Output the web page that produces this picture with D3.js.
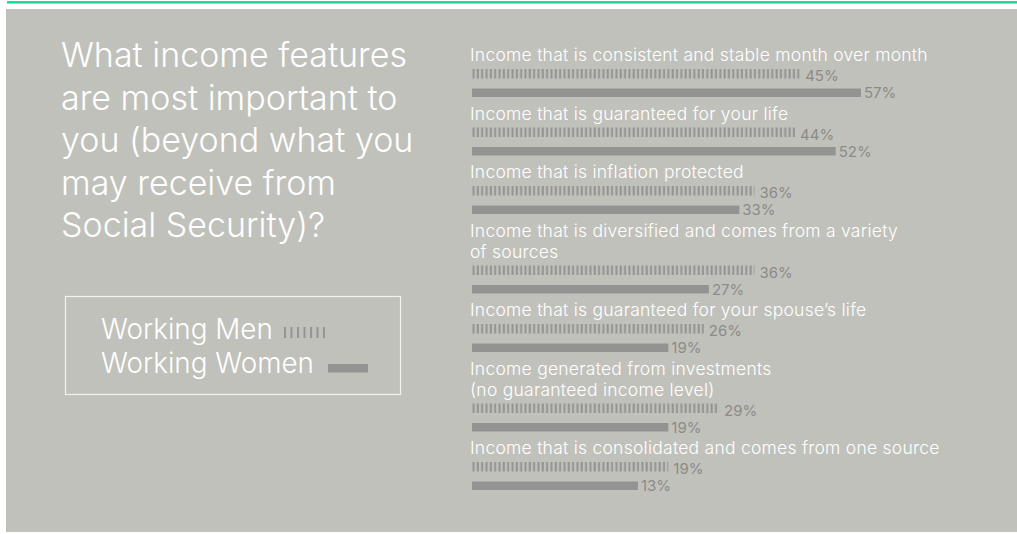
<!DOCTYPE html>
<html>
<head>
<meta charset="utf-8">
<script src="https://cdn.jsdelivr.net/npm/d3@7"></script>
<style>
  html, body { margin: 0; padding: 0; background: #ffffff; }
  svg { display: block; }
</style>
</head>
<body>
<script>
// ---- data ----
const titleLines = ["What income features", "are most important to", "you (beyond what you", "may receive from", "Social Security)?"];
const seriesNames = ["Working Men", "Working Women"];
const categories = [
  ["Income that is consistent and stable month over month"],
  ["Income that is guaranteed for your life"],
  ["Income that is inflation protected"],
  ["Income that is diversified and comes from a variety", "of sources"],
  ["Income that is guaranteed for your spouse\u2019s life"],
  ["Income generated from investments", "(no guaranteed income level)"],
  ["Income that is consolidated and comes from one source"]
];
const menValues   = [45, 44, 36, 36, 26, 29, 19];
const womenValues = [57, 52, 33, 27, 19, 19, 13];

// ---- layout ----
const W = 1017, H = 534;
const BG = "#c1c1bb", BAR = "#939391", VAL = "#8b8b87";
const FONT = "Inter, 'DejaVu Sans', sans-serif";

const svg = d3.select("body").append("svg").attr("width", W).attr("height", H);

const defs = svg.append("defs");
defs.append("pattern").attr("id", "stripes").attr("patternUnits", "userSpaceOnUse")
  .attr("x", 472).attr("width", 4.33).attr("height", 20)
  .append("rect").attr("x", 0.5).attr("y", 0).attr("width", 2).attr("height", 20).attr("fill", BAR);
defs.append("pattern").attr("id", "stripesLegend").attr("patternUnits", "userSpaceOnUse")
  .attr("x", 284).attr("width", 6.5).attr("height", 20)
  .append("rect").attr("x", 0).attr("y", 0).attr("width", 2).attr("height", 20).attr("fill", BAR);

// top accent line + panel
svg.append("rect").attr("x", 7).attr("y", 1).attr("width", W - 7).attr("height", 2.6).attr("fill", "#1fd99b");
svg.append("rect").attr("x", 6).attr("y", 9).attr("width", W - 6).attr("height", 523).attr("fill", BG);

// title
const title = svg.append("text").attr("font-family", FONT).attr("font-size", 34)
  .attr("fill", "#ffffff").attr("font-weight", 300);
titleLines.forEach((t, i) => {
  title.append("tspan").attr("x", 61).attr("y", 67 + i * 42.5).text(t);
});

// legend
svg.append("rect").attr("x", 65.5).attr("y", 296.5).attr("width", 335).attr("height", 98)
  .attr("fill", "none").attr("stroke", "#f2f2ee").attr("stroke-width", 1.2);
svg.append("text").attr("x", 101).attr("y", 338.5).attr("font-family", FONT).attr("font-size", 27.8)
  .attr("font-weight", 300).attr("fill", "#ffffff").text(seriesNames[0]);
svg.append("text").attr("x", 101).attr("y", 372.5).attr("font-family", FONT).attr("font-size", 27.8)
  .attr("font-weight", 300).attr("fill", "#ffffff").text(seriesNames[1]);
svg.append("rect").attr("x", 284).attr("y", 327).attr("width", 41).attr("height", 11).attr("fill", "url(#stripesLegend)");
svg.append("rect").attr("x", 328).attr("y", 364).attr("width", 40).attr("height", 8.5).attr("fill", BAR);

// scale for bar length (bars start at x0)
const x0 = 472;
const w = d3.scaleLinear().domain([0, 57]).range([100, 389]);

// rows
const lineH = 21, rowH = 58.5;
let B = 61;
const rows = categories.map((lines, i) => {
  const r = { lines, men: menValues[i], women: womenValues[i], base: B };
  r.lastBase = B + (lines.length - 1) * lineH;
  B = r.lastBase + rowH;
  return r;
});

const g = svg.append("g");
const row = g.selectAll("g.row").data(rows).join("g").attr("class", "row");

row.each(function(d) {
  const s = d3.select(this);
  const t = s.append("text").attr("font-family", FONT).attr("font-size", 17.5)
    .attr("letter-spacing", 0.25).attr("fill", "#ffffff").attr("font-weight", 300);
  d.lines.forEach((ln, j) => t.append("tspan").attr("x", 470).attr("y", d.base + j * lineH).text(ln));
  const menTop = d.lastBase + 8, womenTop = d.lastBase + 27.5;
  s.append("rect").attr("x", x0).attr("y", menTop).attr("width", w(d.men)).attr("height", 9.5)
    .attr("fill", "url(#stripes)");
  s.append("text").attr("x", x0 + w(d.men) + 5).attr("y", menTop + 12)
    .attr("font-family", FONT).attr("font-size", 15).attr("fill", VAL).text(d.men + "%");
  s.append("rect").attr("x", x0).attr("y", womenTop).attr("width", w(d.women)).attr("height", 8.5)
    .attr("fill", BAR);
  s.append("text").attr("x", x0 + w(d.women) + 3).attr("y", womenTop + 9.5)
    .attr("font-family", FONT).attr("font-size", 15).attr("fill", VAL).text(d.women + "%");
});
</script>
</body>
</html>
